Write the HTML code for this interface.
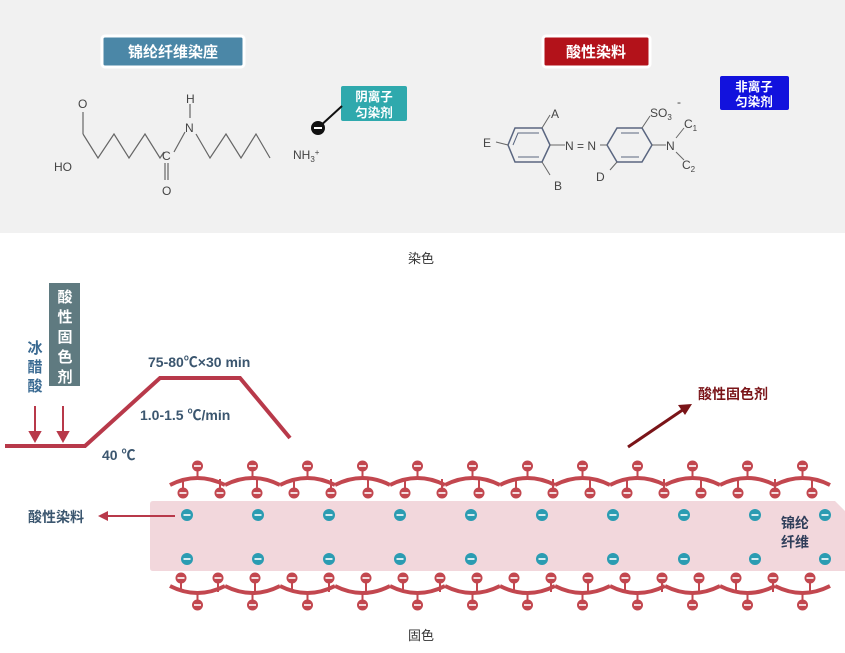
<!DOCTYPE html>
<html><head><meta charset="utf-8"><style>
body{margin:0;background:#fff;}
svg{display:block;font-family:"Liberation Sans","Noto Sans CJK SC",sans-serif;}
.cj{font-family:"Liberation Sans","Noto Sans CJK SC",sans-serif;font-weight:bold;}
</style></head><body>
<svg width="845" height="653" viewBox="0 0 845 653" xmlns="http://www.w3.org/2000/svg">
<defs>
<g id="m"><circle r="5.5" fill="#c2474f"/><rect x="-3.5" y="-0.8" width="7" height="1.6" fill="#fff"/></g>
<g id="b"><circle r="6" fill="#2b9cb2"/><rect x="-3.5" y="-0.8" width="7" height="1.6" fill="#fff"/></g>
<g id="th"><path d="M-27.5,0 Q0,-14 27.5,0" fill="none" stroke="#c2474f" stroke-width="4"/><line x1="0" y1="-7" x2="0" y2="-14" stroke="#c2474f" stroke-width="2"/><use href="#m" y="-19"/></g>
<g id="bh"><path d="M-27.5,0 Q0,14 27.5,0" fill="none" stroke="#c2474f" stroke-width="4"/><line x1="0" y1="7" x2="0" y2="14" stroke="#c2474f" stroke-width="2"/><use href="#m" y="19"/></g>
<g id="td"><line x1="0" y1="-6" x2="0" y2="3" stroke="#c2474f" stroke-width="2"/><use href="#m" y="8"/></g>
<g id="bu"><line x1="0" y1="6" x2="0" y2="-3" stroke="#c2474f" stroke-width="2"/><use href="#m" y="-8"/></g>
</defs>
<rect x="0" y="0" width="845" height="233" fill="#f1f1f1"/>
<!-- badges -->
<rect x="102" y="36" width="142" height="31" rx="3" fill="#4b87a7" stroke="#fff" stroke-width="3"/>
<text x="173" y="57" class="cj" font-size="15" fill="#fff" text-anchor="middle">锦纶纤维染座</text>
<rect x="543" y="36" width="107" height="31" rx="3" fill="#b3121a" stroke="#fff" stroke-width="3"/>
<text x="596" y="57" class="cj" font-size="15" fill="#fff" text-anchor="middle">酸性染料</text>
<rect x="720" y="76" width="69" height="34" rx="2" fill="#1212dd"/>
<text x="754" y="91" class="cj" font-size="12.5" fill="#fff" text-anchor="middle">非离子</text>
<text x="754" y="106" class="cj" font-size="12.5" fill="#fff" text-anchor="middle">匀染剂</text>
<rect x="341" y="86" width="66" height="35" rx="2" fill="#2fa9ad"/>
<text x="374" y="101" class="cj" font-size="12.5" fill="#fff" text-anchor="middle">阴离子</text>
<text x="374" y="117" class="cj" font-size="12.5" fill="#fff" text-anchor="middle">匀染剂</text>
<line x1="318" y1="128" x2="342" y2="106" stroke="#111" stroke-width="2"/>
<circle cx="318" cy="128" r="7" fill="#111"/><rect x="314" y="127" width="8" height="2" fill="#fff"/>
<!-- molecule 1 -->
<g stroke="#666" stroke-width="1.2" fill="none">
<line x1="83" y1="112" x2="83" y2="134"/>
<polyline points="83,134 98,158 114,134 129,158 145,134 160,158 164,152"/>
<line x1="174" y1="152" x2="185" y2="132"/>
<line x1="190" y1="104" x2="190" y2="118"/>
<polyline points="196,134 210,158 226,134 241,158 256,134 270,158"/>
<line x1="165" y1="163" x2="165" y2="180"/><line x1="168" y1="163" x2="168" y2="180"/>
</g>
<g font-size="12" fill="#444">
<text x="78" y="108">O</text><text x="186" y="103">H</text><text x="185" y="132">N</text>
<text x="162" y="160">C</text><text x="54" y="171">HO</text><text x="162" y="195">O</text>
<text x="293" y="159">NH<tspan font-size="8" dy="3">3</tspan><tspan font-size="8" dy="-7">+</tspan></text>
</g>
<!-- molecule 2 -->
<g stroke="#5a6680" stroke-width="1.5" fill="none">
<polygon points="508,145 515,128 542,128 550,145 542,162 515,162"/>
<polyline points="513,145 518,133 539,133" stroke-width="1"/>
<line x1="518" y1="157" x2="539" y2="157" stroke-width="1"/>
<polygon points="607,145 617,128 642,128 652,145 642,162 617,162"/>
<line x1="621" y1="133" x2="639" y2="133" stroke-width="1"/><line x1="621" y1="157" x2="639" y2="157" stroke-width="1"/>
<line x1="496" y1="142" x2="508" y2="145" stroke="#666" stroke-width="1"/>
<line x1="542" y1="128" x2="550" y2="115" stroke="#666" stroke-width="1"/>
<line x1="542" y1="162" x2="550" y2="175" stroke="#666" stroke-width="1"/>
<line x1="550" y1="145" x2="565" y2="145" stroke="#666" stroke-width="1"/>
<line x1="600" y1="145" x2="607" y2="145" stroke="#666" stroke-width="1"/>
<line x1="642" y1="128" x2="650" y2="116" stroke="#666" stroke-width="1"/>
<line x1="617" y1="162" x2="610" y2="170" stroke="#666" stroke-width="1"/>
<line x1="652" y1="145" x2="666" y2="145" stroke="#666" stroke-width="1"/>
<line x1="676" y1="138" x2="684" y2="128" stroke="#666" stroke-width="1"/>
<line x1="676" y1="152" x2="684" y2="160" stroke="#666" stroke-width="1"/>
</g>
<g font-size="12" fill="#444">
<text x="483" y="147">E</text><text x="551" y="118">A</text><text x="554" y="190">B</text>
<text x="565" y="150">N = N</text><text x="596" y="181">D</text>
<text x="650" y="117">SO<tspan font-size="8" dy="3">3</tspan></text><text x="677" y="106" font-size="12">-</text>
<text x="666" y="150">N</text>
<text x="684" y="128">C<tspan font-size="8" dy="3">1</tspan></text>
<text x="682" y="169">C<tspan font-size="8" dy="3">2</tspan></text>
</g>
<text x="421" y="263" font-size="13" fill="#333" text-anchor="middle" font-family="Liberation Sans,Noto Sans CJK SC,sans-serif">染色</text>
<text x="421" y="640" font-size="13" fill="#333" text-anchor="middle" font-family="Liberation Sans,Noto Sans CJK SC,sans-serif">固色</text>
<!-- profile -->
<polyline points="5,446 85,446 160,378 240,378 290,438" fill="none" stroke="#b8394a" stroke-width="4"/>
<g stroke="#b8394a" stroke-width="2" fill="#b8394a">
<line x1="35" y1="406" x2="35" y2="434"/><polygon points="30,432 40,432 35,441"/>
<line x1="63" y1="406" x2="63" y2="434"/><polygon points="58,432 68,432 63,441"/>
</g>
<rect x="49" y="283" width="31" height="103" fill="#5f7a80"/>
<g class="cj" font-size="15" fill="#fff" text-anchor="middle">
<text x="65" y="302">酸</text><text x="65" y="322">性</text><text x="65" y="342">固</text><text x="65" y="362">色</text><text x="65" y="382">剂</text></g>
<g class="cj" font-size="15" fill="#3a6a92" text-anchor="middle">
<text x="35" y="353">冰</text><text x="35" y="372">醋</text><text x="35" y="391">酸</text></g>
<g class="cj" font-size="14" fill="#3b566f">
<text x="148" y="367">75-80℃×30 min</text>
<text x="140" y="420">1.0-1.5 ℃/min</text>
<text x="102" y="460">40 ℃</text></g>
<!-- fiber band -->
<path d="M153,501 L835,501 L845,511 L845,571 L153,571 Q150,571 150,568 L150,504 Q150,501 153,501Z" fill="#f2d7dc"/>
<g>
<use href="#b" x="187" y="515"/><use href="#b" x="258" y="515"/><use href="#b" x="329" y="515"/><use href="#b" x="400" y="515"/><use href="#b" x="471" y="515"/><use href="#b" x="542" y="515"/><use href="#b" x="613" y="515"/><use href="#b" x="684" y="515"/><use href="#b" x="755" y="515"/><use href="#b" x="825" y="515"/>
<use href="#b" x="187" y="559"/><use href="#b" x="258" y="559"/><use href="#b" x="329" y="559"/><use href="#b" x="400" y="559"/><use href="#b" x="471" y="559"/><use href="#b" x="542" y="559"/><use href="#b" x="613" y="559"/><use href="#b" x="684" y="559"/><use href="#b" x="755" y="559"/><use href="#b" x="825" y="559"/>
</g>
<g class="cj" font-size="14" fill="#2f3e5a" text-anchor="middle"><text x="795" y="528">锦纶</text><text x="795" y="547">纤维</text></g>
<!-- top chain -->
<g transform="translate(0,485)">
<use href="#th" x="197.5"/><use href="#th" x="252.5"/><use href="#th" x="307.5"/><use href="#th" x="362.5"/><use href="#th" x="417.5"/><use href="#th" x="472.5"/><use href="#th" x="527.5"/><use href="#th" x="582.5"/><use href="#th" x="637.5"/><use href="#th" x="692.5"/><use href="#th" x="747.5"/><use href="#th" x="802.5"/>
<use href="#td" x="183"/><use href="#td" x="220"/><use href="#td" x="257"/><use href="#td" x="294"/><use href="#td" x="331"/><use href="#td" x="368"/><use href="#td" x="405"/><use href="#td" x="442"/><use href="#td" x="479"/><use href="#td" x="516"/><use href="#td" x="553"/><use href="#td" x="590"/><use href="#td" x="627"/><use href="#td" x="664"/><use href="#td" x="701"/><use href="#td" x="738"/><use href="#td" x="775"/><use href="#td" x="812"/>
</g>
<!-- bottom chain -->
<g transform="translate(0,586)">
<use href="#bh" x="197.5"/><use href="#bh" x="252.5"/><use href="#bh" x="307.5"/><use href="#bh" x="362.5"/><use href="#bh" x="417.5"/><use href="#bh" x="472.5"/><use href="#bh" x="527.5"/><use href="#bh" x="582.5"/><use href="#bh" x="637.5"/><use href="#bh" x="692.5"/><use href="#bh" x="747.5"/><use href="#bh" x="802.5"/>
<use href="#bu" x="181"/><use href="#bu" x="218"/><use href="#bu" x="255"/><use href="#bu" x="292"/><use href="#bu" x="329"/><use href="#bu" x="366"/><use href="#bu" x="403"/><use href="#bu" x="440"/><use href="#bu" x="477"/><use href="#bu" x="514"/><use href="#bu" x="551"/><use href="#bu" x="588"/><use href="#bu" x="625"/><use href="#bu" x="662"/><use href="#bu" x="699"/><use href="#bu" x="736"/><use href="#bu" x="773"/><use href="#bu" x="810"/>
</g>
<!-- arrows -->
<line x1="175" y1="516" x2="106" y2="516" stroke="#b8394a" stroke-width="2"/>
<polygon points="98,516 108,511 108,521" fill="#b8394a"/>
<g class="cj" font-size="14" fill="#3b566f"><text x="28" y="522">酸性染料</text></g>
<line x1="628" y1="447" x2="684" y2="409" stroke="#7a1418" stroke-width="3"/>
<polygon points="692,404 678,405 685,415" fill="#7a1418"/>
<text x="698" y="399" class="cj" font-size="14" fill="#7a1418">酸性固色剂</text>
</svg>
</body></html>
